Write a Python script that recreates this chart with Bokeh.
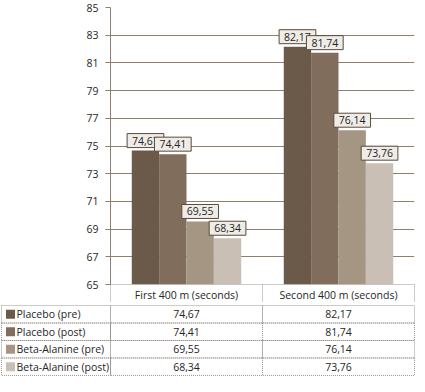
from bokeh.plotting import figure
from bokeh.models import (ColumnDataSource, FactorRange, Range1d, FixedTicker,
                          LinearAxis)
from bokeh.transform import dodge
from bokeh.embed import file_html
from bokeh.resources import INLINE
from bokeh.core.properties import value

# ---------------- data ----------------
categories = ["First 400 m (seconds)", "Second 400 m (seconds)"]
series = ["Placebo (pre)", "Placebo (post)", "Beta-Alanine (pre)", "Beta-Alanine (post)"]
placebo_pre = [74.67, 82.17]
placebo_post = [74.41, 81.74]
beta_pre = [69.55, 76.14]
beta_post = [68.34, 73.76]
y_ticks = [65, 67, 69, 71, 73, 75, 77, 79, 81, 83, 85]
colors = ["#6b5a4a", "#806d5c", "#a59583", "#c9bfb4"]

# ---------------- style ----------------
FONT = "Open Sans"
FS = "10.5px"
TXT = "#262626"
GRID = "#8f7f6e"
DOT = "#9c958e"
LBL_FILL = "#efebe6"
LBL_LINE = "#5b4b3c"

W = 415
COL_PX = 152          # width of one category column in px
LEFT_PX = 110         # width of the legend column / y-axis area
HEAD_PX = 17          # header row height

values = [placebo_pre, placebo_post, beta_pre, beta_post]
keys = ["s0", "s1", "s2", "s3"]
offsets = [-0.27, -0.09, 0.09, 0.27]
n = len(categories)
centers = [i + 0.5 for i in range(n)]


def fmt(v):
    return f"{v:.2f}".replace(".", ",")


data = {"xc": centers}
for k, vals in zip(keys, values):
    data[k] = vals
    data[k + "_lbl"] = [fmt(v) for v in vals]
src = ColumnDataSource(data)

# ---------------- chart ----------------
p = figure(x_range=Range1d(0, n), y_range=Range1d(y_ticks[0], y_ticks[-1]),
           width=W, height=7 + 280 + HEAD_PX, output_backend="svg", toolbar_location=None,
           x_axis_location=None, min_border_left=LEFT_PX, min_border_right=W - LEFT_PX - n * COL_PX,
           min_border_top=7, min_border_bottom=HEAD_PX)
p.outline_line_color = None
p.background_fill_color = "white"
p.border_fill_color = "white"
p.xgrid.visible = False

p.yaxis.ticker = FixedTicker(ticks=y_ticks)
p.yaxis.axis_line_color = GRID
p.yaxis.major_tick_line_color = GRID
p.yaxis.major_tick_out = 5
p.yaxis.major_tick_in = 0
p.yaxis.minor_tick_line_color = None
p.yaxis.major_label_text_font = FONT
p.yaxis.major_label_text_font_size = FS
p.yaxis.major_label_text_color = TXT
p.yaxis.major_label_standoff = 7
p.ygrid.ticker = FixedTicker(ticks=y_ticks[1:])
p.ygrid.grid_line_color = GRID

for k, off, c in zip(keys, offsets, colors):
    p.vbar(x=dodge("xc", off), top=k, bottom=y_ticks[0], width=0.18,
           source=src, fill_color=c, line_color=None)

for k, off in zip(keys, offsets):
    p.text(x=dodge("xc", off), y=k, text=k + "_lbl", source=src,
           text_align="center", text_baseline="bottom", y_offset=-3,
           text_font=value(FONT), text_font_size=value(FS), text_color=TXT,
           background_fill_color=LBL_FILL, border_line_color=LBL_LINE,
           border_line_width=1, padding=(5, 3))

# bottom axis acting as header row of the data table
ax = LinearAxis(ticker=FixedTicker(ticks=centers, minor_ticks=list(range(n + 1))),
                major_label_overrides={c: cat for c, cat in zip(centers, categories)})
ax.axis_line_color = DOT
ax.axis_line_dash = "1 1"
ax.major_tick_line_color = None
ax.major_tick_out = 0
ax.major_tick_in = 0
ax.minor_tick_line_color = DOT
ax.minor_tick_line_dash = "1 1"
ax.minor_tick_out = HEAD_PX
ax.minor_tick_in = 0
ax.major_label_standoff = 3 - HEAD_PX
ax.major_label_text_font = FONT
ax.major_label_text_font_size = FS
ax.major_label_text_color = TXT
p.add_layout(ax, "below")

# ---------------- data table ----------------
x_start = -LEFT_PX / COL_PX
x_end = x_start + W / COL_PX
legend_left = -(LEFT_PX - 1) / COL_PX

p2 = figure(x_range=Range1d(x_start, x_end),
            y_range=FactorRange(*series[::-1], range_padding=0.06, range_padding_units="absolute"),
            width=W, height=72, output_backend="svg", toolbar_location=None,
            x_axis_location=None, y_axis_location=None,
            min_border_left=0, min_border_right=0, min_border_top=0, min_border_bottom=0)
p2.outline_line_color = None
p2.grid.visible = False

cell_x, cell_y, cell_t = [], [], []
for s, vals in zip(series, values):
    for ci, v in enumerate(vals):
        cell_x.append(centers[ci])
        cell_y.append(s)
        cell_t.append(fmt(v))
cells = ColumnDataSource(dict(x=cell_x, y=cell_y, t=cell_t))

p2.rect(x="x", y="y", width=1, height=1, source=cells, fill_color=None,
        line_color=DOT, line_dash="1 1", line_width=1)
p2.text(x="x", y="y", text="t", source=cells, text_align="center", text_baseline="middle",
        text_font=value(FONT), text_font_size=value(FS), text_color=TXT)

leg = ColumnDataSource(dict(y=series, c=colors))
p2.rect(x=legend_left / 2, y="y", width=-legend_left, height=1, source=leg,
        fill_color=None, line_color=DOT, line_dash="1 1", line_width=1)
p2.scatter(x=legend_left + 9 / COL_PX, y="y", marker="square", size=9, source=leg,
           fill_color="c", line_color=None)
p2.text(x=legend_left + 15 / COL_PX, y="y", text="y", source=leg, text_align="left",
        text_baseline="middle", text_font=value(FONT), text_font_size=value(FS),
        text_color=TXT)

open("out.html", "w").write(file_html([p, p2], INLINE))
